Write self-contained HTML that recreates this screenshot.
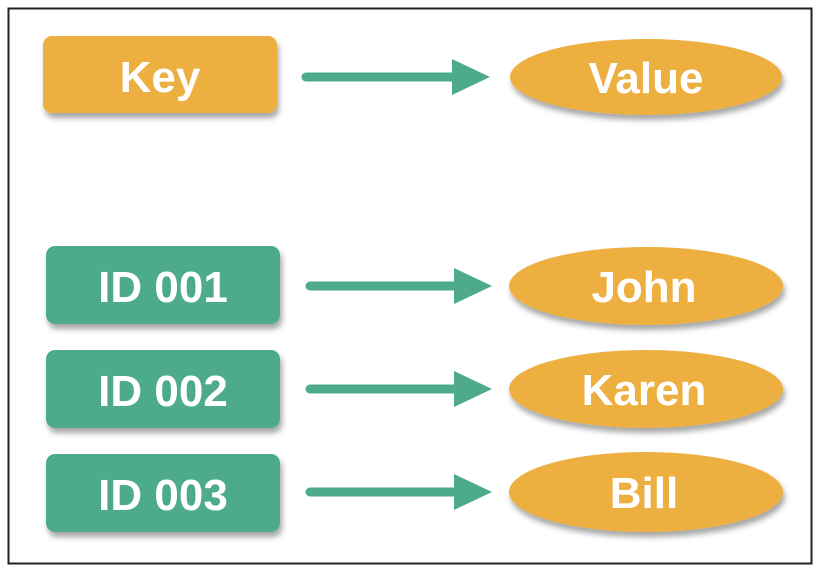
<!DOCTYPE html>
<html><head><style>
body{margin:0;width:824px;height:576px;background:#fff;overflow:hidden}
</style></head><body>
<svg width="824" height="576" xmlns="http://www.w3.org/2000/svg">
<defs>
<filter id="sh" x="-10%" y="-20%" width="130%" height="150%">
<feDropShadow dx="2" dy="5" stdDeviation="3" flood-color="#000" flood-opacity="0.35"/>
</filter>
</defs>
<rect x="8.5" y="8.5" width="803" height="555" fill="#fff" stroke="#222" stroke-width="2"/>
<g font-family="Liberation Sans, sans-serif" font-weight="bold" font-size="44" fill="#fff" text-anchor="middle">
<rect x="43" y="36" width="234" height="77" rx="9" fill="#EDB040" filter="url(#sh)"/>
<text x="160" y="92">Key</text>
<rect x="46" y="246" width="234" height="78" rx="9" fill="#4DAA8C" filter="url(#sh)"/>
<text x="163" y="302">ID 001</text>
<rect x="46" y="350" width="234" height="78" rx="9" fill="#4DAA8C" filter="url(#sh)"/>
<text x="163" y="406">ID 002</text>
<rect x="46" y="454" width="234" height="78" rx="9" fill="#4DAA8C" filter="url(#sh)"/>
<text x="163" y="510">ID 003</text>
<ellipse cx="646" cy="77" rx="136" ry="38" fill="#EDB040" filter="url(#sh)"/>
<text x="646" y="93">Value</text>
<ellipse cx="646" cy="286" rx="137" ry="39" fill="#EDB040" filter="url(#sh)"/>
<text x="644" y="302">John</text>
<ellipse cx="646" cy="389" rx="137" ry="39" fill="#EDB040" filter="url(#sh)"/>
<text x="644" y="405">Karen</text>
<ellipse cx="646" cy="492" rx="137" ry="40" fill="#EDB040" filter="url(#sh)"/>
<text x="644" y="508">Bill</text>
</g>
<g stroke="#4DAA8C" stroke-width="9" stroke-linecap="round" fill="#4DAA8C">
<line x1="306" y1="77" x2="458" y2="77"/>
<line x1="310" y1="286" x2="458" y2="286"/>
<line x1="310" y1="389" x2="458" y2="389"/>
<line x1="310" y1="492" x2="458" y2="492"/>
</g>
<g fill="#4DAA8C">
<polygon points="452,59 490,77 452,95"/>
<polygon points="454,268 492,286 454,304"/>
<polygon points="454,371 492,389 454,407"/>
<polygon points="454,474 492,492 454,510"/>
</g>
</svg>
</body></html>
